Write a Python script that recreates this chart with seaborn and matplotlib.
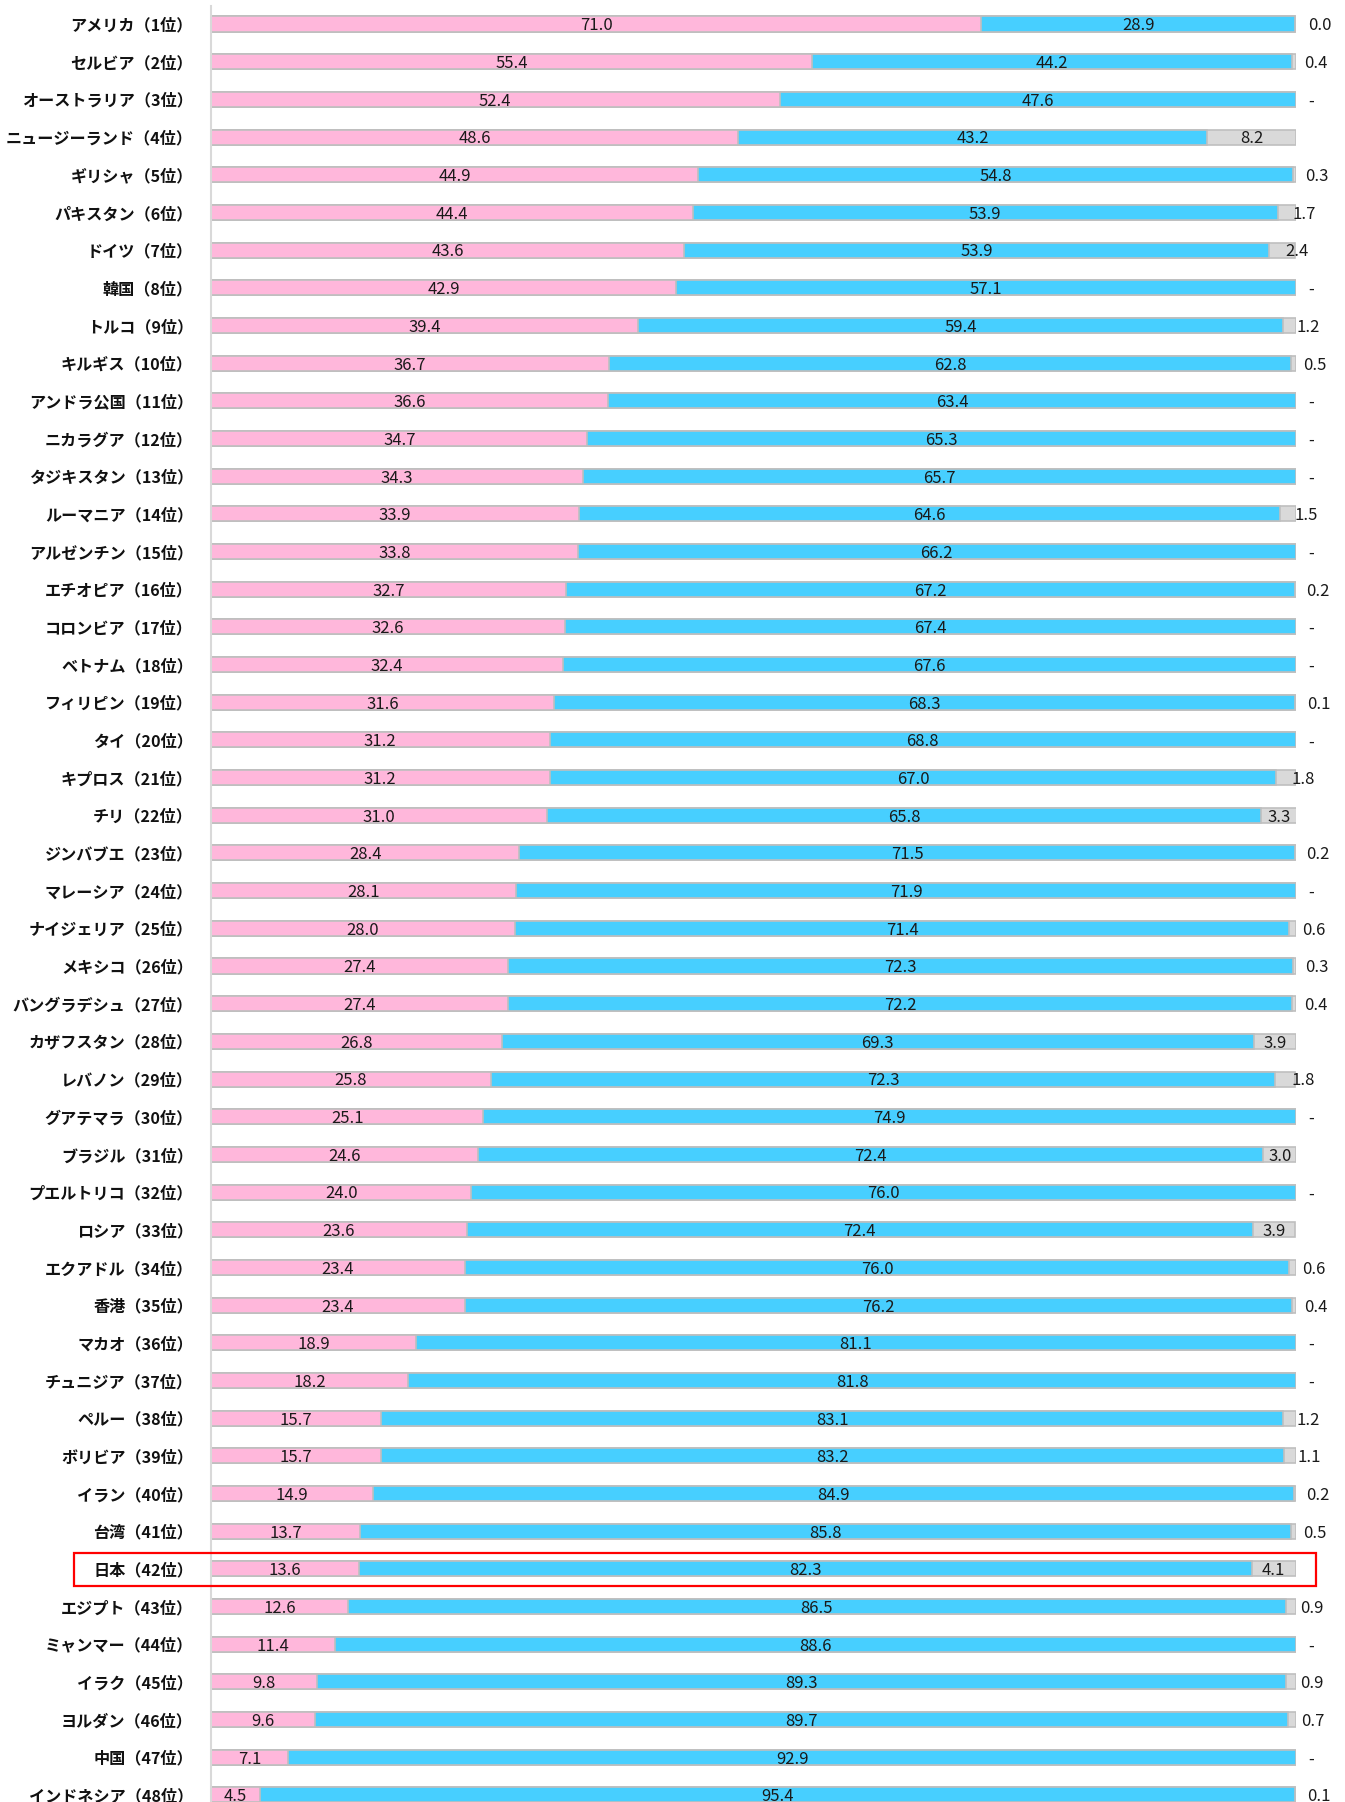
import numpy as np
import pandas as pd
import matplotlib
matplotlib.use('Agg')
import matplotlib.pyplot as plt
from matplotlib.patches import Rectangle
import seaborn as sns

countries = ['アメリカ', 'セルビア', 'オーストラリア', 'ニュージーランド', 'ギリシャ', 'パキスタン',
             'ドイツ', '韓国', 'トルコ', 'キルギス', 'アンドラ公国', 'ニカラグア', 'タジキスタン',
             'ルーマニア', 'アルゼンチン', 'エチオピア', 'コロンビア', 'ベトナム', 'フィリピン', 'タイ',
             'キプロス', 'チリ', 'ジンバブエ', 'マレーシア', 'ナイジェリア', 'メキシコ', 'バングラデシュ',
             'カザフスタン', 'レバノン', 'グアテマラ', 'ブラジル', 'プエルトリコ', 'ロシア', 'エクアドル',
             '香港', 'マカオ', 'チュニジア', 'ペルー', 'ボリビア', 'イラン', '台湾', '日本', 'エジプト',
             'ミャンマー', 'イラク', 'ヨルダン', '中国', 'インドネシア']

pink = [71.0, 55.4, 52.4, 48.6, 44.9, 44.4, 43.6, 42.9, 39.4, 36.7, 36.6, 34.7, 34.3, 33.9, 33.8,
        32.7, 32.6, 32.4, 31.6, 31.2, 31.2, 31.0, 28.4, 28.1, 28.0, 27.4, 27.4, 26.8, 25.8, 25.1,
        24.6, 24.0, 23.6, 23.4, 23.4, 18.9, 18.2, 15.7, 15.7, 14.9, 13.7, 13.6, 12.6, 11.4, 9.8,
        9.6, 7.1, 4.5]

blue = [28.9, 44.2, 47.6, 43.2, 54.8, 53.9, 53.9, 57.1, 59.4, 62.8, 63.4, 65.3, 65.7, 64.6, 66.2,
        67.2, 67.4, 67.6, 68.3, 68.8, 67.0, 65.8, 71.5, 71.9, 71.4, 72.3, 72.2, 69.3, 72.3, 74.9,
        72.4, 76.0, 72.4, 76.0, 76.2, 81.1, 81.8, 83.1, 83.2, 84.9, 85.8, 82.3, 86.5, 88.6, 89.3,
        89.7, 92.9, 95.4]

# None = "-"
gray = [0.0, 0.4, None, 8.2, 0.3, 1.7, 2.4, None, 1.2, 0.5, None, None, None, 1.5, None,
        0.2, None, None, 0.1, None, 1.8, 3.3, 0.2, None, 0.6, 0.3, 0.4, 3.9, 1.8, None,
        3.0, None, 3.9, 0.6, 0.4, None, None, 1.2, 1.1, 0.2, 0.5, 4.1, 0.9, None, 0.9,
        0.7, None, 0.1]

labels = [f'{c}（{i + 1}位）' for i, c in enumerate(countries)]

df = pd.DataFrame({'label': labels, 'pink': pink, 'blue': blue,
                   'gray': [np.nan if g is None else g for g in gray]})
df['pb'] = df['pink'] + df['blue']
df['total'] = df['pb'] + df['gray'].fillna(0)

PINK = '#FFB7DB'
BLUE = '#47CFFF'
GRAY = '#D9D9D9'
EDGE = '#BFBFBF'
TXT = '#1a1a1a'

sns.set_style('white')
plt.rcParams['font.family'] = ['Noto Sans CJK JP', 'DejaVu Sans']

W, H = 1345, 1802
fig = plt.figure(figsize=(W / 100, H / 100), dpi=100)
x0, x1 = 211, 1296
ax = fig.add_axes([x0 / W, 0, (x1 - x0) / W, 1])

common = dict(y='label', orient='h', width=0.4, saturation=1, edgecolor=EDGE,
              linewidth=1.2, order=labels, ax=ax)
sns.barplot(data=df, x='total', color=GRAY, **common)
sns.barplot(data=df, x='pb', color=BLUE, **common)
sns.barplot(data=df, x='pink', color=PINK, **common)

pitch = 37.68
top = -24 / pitch
bottom = (H - 24) / pitch
ax.set_xlim(0, 100)
ax.set_ylim(bottom, top)

fs = 12
dy = 0.05
for i, row in df.iterrows():
    y = i + dy
    ax.text(row['pink'] / 2, y, f"{row['pink']:.1f}", ha='center', va='center',
            fontsize=fs, color=TXT)
    ax.text(row['pink'] + row['blue'] / 2, y, f"{row['blue']:.1f}", ha='center',
            va='center', fontsize=fs, color=TXT)
    g = row['gray']
    if np.isnan(g):
        ax.text(101.4, y, '-', ha='center', va='center', fontsize=fs,
                color=TXT, clip_on=False)
    elif g >= 3:
        ax.text(row['total'] - g / 2, y, f'{g:.1f}', ha='center', va='center',
                fontsize=fs, color=TXT)
    else:
        ax.text(101.1 - 0.85 * g, y, f'{g:.1f}', ha='left', va='center',
                fontsize=fs, color=TXT, clip_on=False)

ax.set_xlabel('')
ax.set_ylabel('')
ax.set_xticks([])
ax.tick_params(axis='y', length=0, pad=13)
for t in ax.get_yticklabels():
    t.set_fontweight('bold')
    t.set_fontsize(11.6)
    t.set_color('#111111')

for s in ['top', 'right', 'bottom']:
    ax.spines[s].set_visible(False)
ax.spines['left'].set_color(GRAY)
ax.spines['left'].set_linewidth(1.5)
ax.spines['left'].set_bounds(-0.48, bottom)

# highlight box for Japan
fig.add_artist(Rectangle((74 / W, 1 - 1586 / H), (1316 - 74) / W, 33 / H,
                         transform=fig.transFigure, fill=False,
                         edgecolor='#FF0000', linewidth=1.6))

fig.savefig('out.png', dpi=100)
